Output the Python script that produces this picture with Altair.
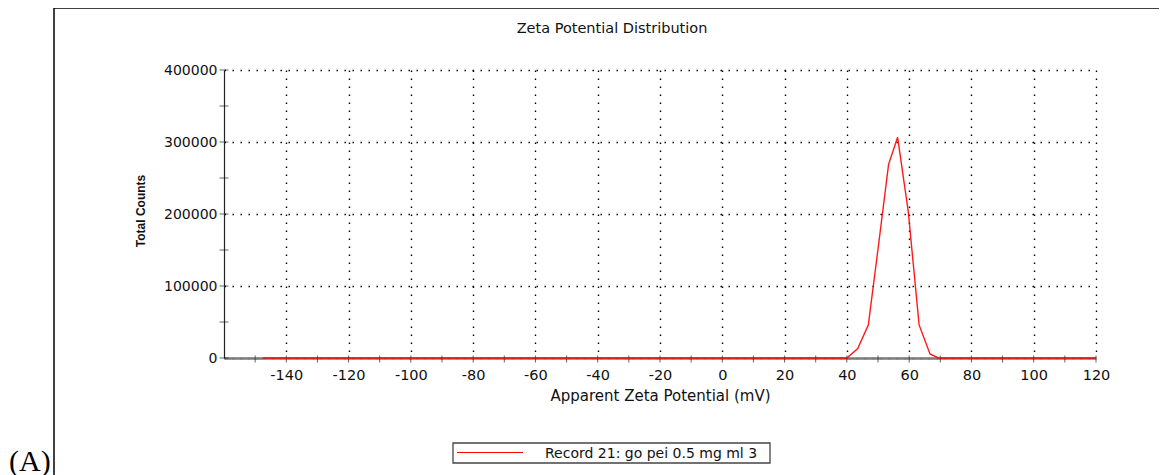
import altair as alt
import pandas as pd

# ---- data ----
zeta_mv = [-147.6, 40.0, 43.5, 46.9, 50.2, 53.4, 56.3, 59.7, 63.2, 66.7, 69.4, 120.0]
total_counts = [0, 0, 13000, 46000, 158000, 269000, 306500, 204000, 46000, 5600, 0, 0]
series_name = "Record 21: go pei 0.5 mg ml 3"

x_label_values = [-140, -120, -100, -80, -60, -40, -20, 0, 20, 40, 60, 80, 100, 120]
y_label_values = [0, 100000, 200000, 300000, 400000]
x_tick_values = [-150, -140, -130, -120, -110, -100, -90, -80, -70, -60, -50, -40, -30,
                 -20, -10, 0, 10, 20, 30, 40, 50, 60, 70, 80, 90, 100, 110, 120]
y_tick_values = [0, 50000, 100000, 150000, 200000, 250000, 300000, 350000, 400000]

X_MIN, X_MAX = -160, 120
Y_MIN, Y_MAX = 0, 400000

FONT = "DejaVu Sans"

df = pd.DataFrame({"x": zeta_mv, "y": total_counts})
xt = pd.DataFrame({"v": x_tick_values})
yt = pd.DataFrame({"v": y_tick_values})

xscale = alt.Scale(domain=[X_MIN, X_MAX], nice=False, zero=False)
yscale = alt.Scale(domain=[Y_MIN, Y_MAX], nice=False)

x_axis = alt.Axis(
    values=x_label_values, labelExpr="'' + datum.value", ticks=False,
    grid=True, gridColor="#000", gridDash=[1.5, 6.5], gridWidth=1.4,
    domainColor="#7a7a7a", domainWidth=2.5, zindex=0,
    labelFont=FONT, labelFontSize=14.5, labelColor="#111", labelPadding=10,
    labelFlush=False, labelOverlap=False,
    title="Apparent Zeta Potential (mV)", titleFont=FONT, titleFontSize=15,
    titleFontWeight="normal", titleColor="#111", titlePadding=7,
)
y_axis = alt.Axis(
    values=y_label_values, labelExpr="'' + datum.value", ticks=False,
    grid=True, gridColor="#000", gridDash=[1.5, 6.5], gridWidth=1.4,
    domainColor="#222", domainWidth=1.2, zindex=0,
    labelFont=FONT, labelFontSize=14, labelColor="#111", labelPadding=7,
    labelFlush=False, labelOverlap=False,
    title=None,
)

line = alt.Chart(df).mark_line(strokeWidth=1.4, color="#ff0000", opacity=0.9).encode(
    x=alt.X("x:Q", scale=xscale, axis=x_axis),
    y=alt.Y("y:Q", scale=yscale, axis=y_axis),
)

xticks = alt.Chart(xt).mark_tick(orient="vertical", size=7, thickness=1, color="#222", yOffset=1).encode(
    x=alt.X("v:Q", scale=xscale),
    y=alt.datum(0, scale=yscale),
)
yticks = alt.Chart(yt).mark_tick(orient="horizontal", size=9, thickness=1, color="#222").encode(
    y=alt.Y("v:Q", scale=yscale),
    x=alt.datum(X_MIN, scale=xscale),
)

title_txt = alt.Chart(pd.DataFrame({"t": ["Zeta Potential Distribution"]})).mark_text(
    font=FONT, fontSize=14.5, color="#111", align="center", baseline="alphabetic"
).encode(x=alt.value(388), y=alt.value(-37), text="t:N")

ytitle_txt = alt.Chart(pd.DataFrame({"t": ["Total Counts"]})).mark_text(
    font="Liberation Sans", fontSize=12, fontWeight="bold", color="#111",
    align="center", baseline="middle", angle=270
).encode(x=alt.value(-83), y=alt.value(141), text="t:N")

panel_txt = alt.Chart(pd.DataFrame({"t": ["(A)"]})).mark_text(
    font="Liberation Serif", fontSize=30, color="#000", align="left", baseline="alphabetic"
).encode(x=alt.value(-215), y=alt.value(401), text="t:N")

frame_left = alt.Chart(pd.DataFrame({"a": [0]})).mark_rule(color="#000", strokeWidth=1.5).encode(
    x=alt.value(-170), y=alt.value(-62), y2=alt.value(420)
)
frame_top = alt.Chart(pd.DataFrame({"a": [0]})).mark_rule(color="#000", strokeWidth=1.5).encode(
    x=alt.value(-170), x2=alt.value(960), y=alt.value(-62)
)

# manual legend box (decoration)
legend_box = alt.Chart(pd.DataFrame({"a": [0]})).mark_rect(
    fill="#ffffff", stroke="#444", strokeWidth=1.3
).encode(x=alt.value(229), x2=alt.value(546), y=alt.value(373), y2=alt.value(393))
legend_line = alt.Chart(pd.DataFrame({"a": [0]})).mark_rule(color="#ff0000", strokeWidth=1.2).encode(
    x=alt.value(233), x2=alt.value(299), y=alt.value(382.5)
)
legend_txt = alt.Chart(pd.DataFrame({"t": [series_name]})).mark_text(
    font=FONT, fontSize=14, color="#111", align="left", baseline="middle"
).encode(x=alt.value(321), y=alt.value(383.5), text="t:N")

chart = alt.layer(
    frame_left, frame_top, xticks, yticks, line, title_txt, ytitle_txt, panel_txt,
    legend_box, legend_line, legend_txt
).properties(
    width=872, height=288,
    padding={"left": 216, "top": 62, "right": 63, "bottom": 117},
    autosize=alt.AutoSizeParams(type="none"),
    background="#ffffff",
).configure_view(stroke=None)

chart.save("out.html", embed_options={"renderer": "svg", "actions": False})
